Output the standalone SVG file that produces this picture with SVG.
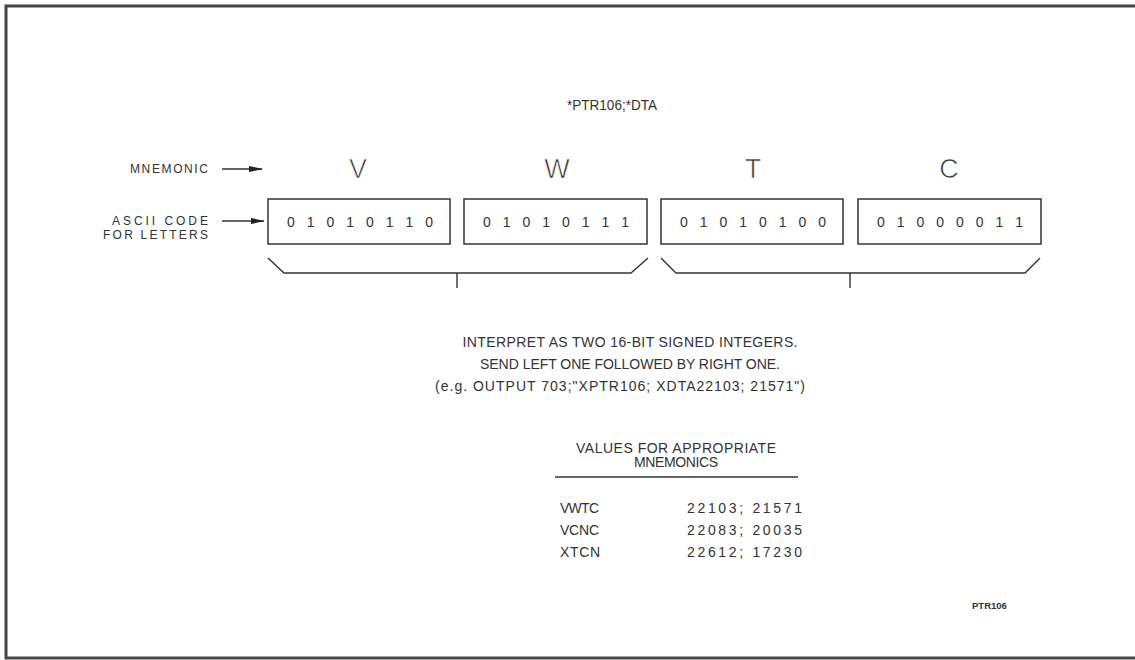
<svg xmlns="http://www.w3.org/2000/svg" width="1135" height="660" viewBox="0 0 1135 660">
<style>
text{font-family:"Liberation Sans",Arial,sans-serif;fill:#333}
.lbl{font-size:12px;text-anchor:end}
.big{font-size:27px;text-anchor:middle;fill:#333;stroke:#fff;stroke-width:0.7}
.bits{font-size:14px}
.body{font-size:14px;text-anchor:middle}
.tbl{font-size:14px}
.box{fill:none;stroke:#333;stroke-width:1.5}
.ln{fill:none;stroke:#333;stroke-width:1.4}
</style>
<defs>
<marker id="ah" markerWidth="14" markerHeight="8" refX="13" refY="4" orient="auto" markerUnits="userSpaceOnUse">
<path d="M0,1 L14,4 L0,7 Z" fill="#222"/>
</marker>
</defs>
<rect width="1135" height="660" fill="#fff"/>
<path d="M1135,6 H6 V658 H1135" fill="none" stroke="#444" stroke-width="3"/>

<g id="title"><text x="612" y="110" style="font-size:15px;text-anchor:middle" textLength="90" lengthAdjust="spacingAndGlyphs">*PTR106;*DTA</text></g>

<g id="mnemonic-label"><text class="lbl" x="208" y="173" textLength="78">MNEMONIC</text></g>
<g id="ascii-label"><text class="lbl" x="208" y="225" textLength="96">ASCII CODE</text><text class="lbl" x="208" y="239" textLength="105">FOR LETTERS</text></g>

<g id="letter-V"><text class="big" x="358" y="178">V</text></g>
<g id="letter-W"><text class="big" x="557" y="178">W</text></g>
<g id="letter-T"><text class="big" x="753" y="178">T</text></g>
<g id="letter-C"><text class="big" x="949" y="178">C</text></g>

<g id="box-V"><rect class="box" x="268" y="199" width="182" height="45"/><text class="bits" x="287" y="227" textLength="146" lengthAdjust="spacing">0 1 0 1 0 1 1 0</text></g>
<g id="box-W"><rect class="box" x="464" y="199" width="183" height="45"/><text class="bits" x="483" y="227" textLength="146" lengthAdjust="spacing">0 1 0 1 0 1 1 1</text></g>
<g id="box-T"><rect class="box" x="661" y="199" width="182" height="45"/><text class="bits" x="680" y="227" textLength="146" lengthAdjust="spacing">0 1 0 1 0 1 0 0</text></g>
<g id="box-C"><rect class="box" x="858" y="199" width="183" height="45"/><text class="bits" x="877" y="227" textLength="146" lengthAdjust="spacing">0 1 0 0 0 0 1 1</text></g>

<g id="connectors">
<line class="ln" x1="222" y1="169" x2="262" y2="169" marker-end="url(#ah)"/>
<line class="ln" x1="222" y1="221" x2="264" y2="221" marker-end="url(#ah)"/>
<path class="ln" d="M268,258 L284,273 H631 L648,258 M457,273 V288"/>
<path class="ln" d="M661,258 L676,273 H1025 L1040,258 M850,273 V288"/>
</g>

<g id="explanation">
<text class="body" x="630" y="347" textLength="335">INTERPRET AS TWO 16-BIT SIGNED INTEGERS.</text>
<text class="body" x="630" y="369" textLength="300">SEND LEFT ONE FOLLOWED BY RIGHT ONE.</text>
<text class="body" x="620" y="391" textLength="370">(e.g. OUTPUT 703;"XPTR106; XDTA22103; 21571")</text>
</g>

<g id="table">
<text class="tbl" x="676" y="453" text-anchor="middle" textLength="200">VALUES FOR APPROPRIATE</text>
<text class="tbl" x="676" y="467" text-anchor="middle" textLength="84">MNEMONICS</text>
<line class="ln" x1="555" y1="477" x2="798" y2="477"/>
<text class="tbl" x="560" y="513" textLength="39">VWTC</text>
<text class="tbl" x="687" y="513" textLength="115">22103;  21571</text>
<text class="tbl" x="560" y="535" textLength="39">VCNC</text>
<text class="tbl" x="687" y="535" textLength="115">22083;  20035</text>
<text class="tbl" x="560" y="557" textLength="40">XTCN</text>
<text class="tbl" x="687" y="557" textLength="115">22612;  17230</text>
</g>

<g id="figure-id"><text x="972" y="609" style="font-size:9.5px;font-weight:bold">PTR106</text></g>
</svg>
